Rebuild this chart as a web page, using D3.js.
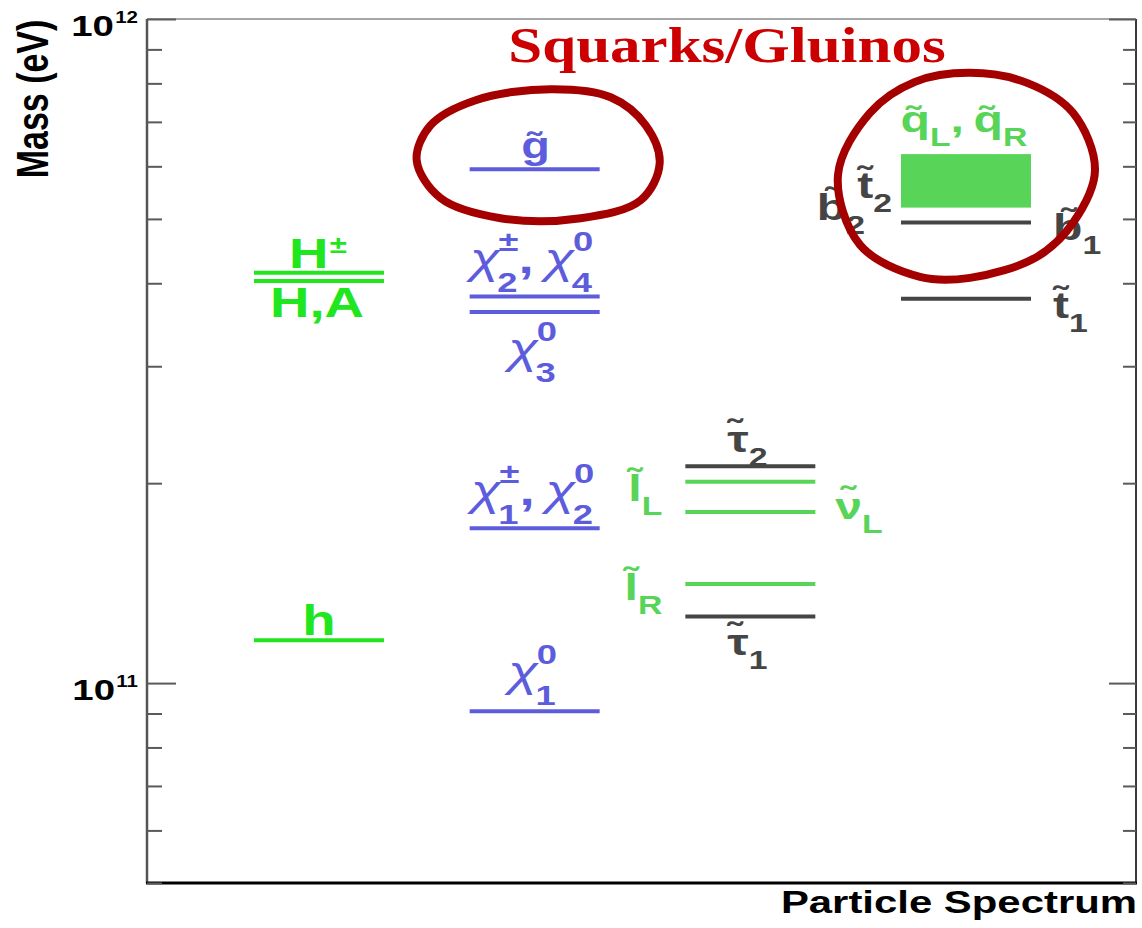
<!DOCTYPE html>
<html>
<head>
<meta charset="utf-8">
<script src="https://cdn.jsdelivr.net/npm/d3@7"></script>
<style>
  body { margin: 0; background: #fff; }
  svg { display: block; }
</style>
</head>
<body>
<script>
// ---- Mass spectrum (eV) ----
const columns = ["Higgs", "Gauginos", "Sleptons", "Squarks"];

const higgsNames = ["H^±", "H,A", "h"];
const higgsMasses = [4.15e11, 4.03e11, 1.16e11];

const gauginoNames = ["g\u0303", "χ_2^±, χ_4^0", "χ_3^0", "χ_1^±, χ_2^0", "χ_1^0"];
const gauginoMasses = [5.94e11, 3.82e11, 3.62e11, 1.71e11, 9.07e10];

const sleptonNames = ["τ\u0303_2", "l\u0303_L", "ν\u0303_L", "l\u0303_R", "τ\u0303_1"];
const sleptonMasses = [2.12e11, 2.01e11, 1.81e11, 1.41e11, 1.26e11];
const sleptonKinds = ["stau", "sel", "snu", "sel", "stau"];

const squarkNames = ["t\u0303_2", "b\u0303_2", "b\u0303_1", "t\u0303_1"];
const squarkMasses = [5.75e11, 5.25e11, 4.94e11, 3.79e11];

const squarkBandName = "q\u0303_L, q\u0303_R";
const squarkBand = [5.20e11, 6.26e11];

const yDomain = [5e10, 1e12];
const yMajorTicks = [1e11, 1e12];
const yMajorExponents = ["11", "12"];

const yTitle = "Mass (eV)";
const xTitle = "Particle Spectrum";
const bannerText = "Squarks/Gluinos";

// ---- Layout ----
const W = 1142, H = 928;
const P = { left: 147, right: 1136, top: 19, bottom: 883 };
const SX = 1.3;          // horizontal stretch of all lettering
const HALF = 65;         // half width of a level line
const LW = 4;            // level line thickness

const C = {
  higgs: "#20e620",
  gaugino: "#5c5cdd",
  green: "#58d458",
  gray: "#454545",
  ring: "#a50000",
  banner: "#cc0000",
  axis: "#555"
};

const svg = d3.select("body").append("svg").attr("width", W).attr("height", H);

const y = d3.scaleLog().domain(yDomain).range([P.bottom, P.top]);
const x = d3.scalePoint().domain(columns).range([P.left + 172, P.right - 170]);

// ---- Label helper: base + optional subscript / superscript (stacked) ----
function parseLabel(str) {
  const segs = [];
  str.split(", ").forEach((piece, i) => {
    if (i > 0) segs.push({ t: ",\u2009" });
    const m = piece.match(/^([^_^]+)(?:_([^_^]+))?(?:\^([^_^]+))?$/);
    segs.push({ t: m[1], sub: m[2], sup: m[3], it: m[1].startsWith("χ") });
  });
  return segs;
}

function drawLabel(parent, str, o) {
  const g = parent.append("g");
  const inner = g.append("g");
  const fam = o.family || "'Liberation Sans', Arial, sans-serif";
  let cx = 0;
  parseLabel(str).forEach(s => {
    const b = inner.append("text")
      .attr("x", cx).attr("y", 0)
      .attr("font-family", fam)
      .attr("font-size", o.size)
      .attr("font-weight", s.it ? (o.greekWeight || "normal") : (o.weight || "bold"))
      .attr("font-style", s.it ? "italic" : "normal")
      .attr("fill", o.color)
      .text(s.t);
    cx += b.node().getComputedTextLength() + (s.it ? -2 : 0);
    let w = 0;
    if (s.sub) {
      const t = inner.append("text")
        .attr("x", cx).attr("y", o.subDy)
        .attr("font-family", fam).attr("font-size", o.subSize)
        .attr("font-weight", "bold").attr("fill", o.color).text(s.sub);
      w = Math.max(w, t.node().getComputedTextLength());
    }
    if (s.sup) {
      const t = inner.append("text")
        .attr("x", cx + 1).attr("y", o.supDy)
        .attr("font-family", fam).attr("font-size", o.supSize || o.subSize)
        .attr("font-weight", "bold").attr("fill", o.color).text(s.sup);
      w = Math.max(w, t.node().getComputedTextLength() + 1);
    }
    cx += w;
  });
  const shift = o.anchor === "middle" ? -cx / 2 : o.anchor === "end" ? -cx : 0;
  inner.attr("transform", `translate(${shift},0)`);
  g.attr("transform", `translate(${o.x},${o.y}) scale(${o.sx || SX},1)`);
  return g;
}

// ---- Frame and axes ----
const frame = svg.append("g");
frame.append("line").attr("x1", P.left).attr("x2", P.right).attr("y1", P.top).attr("y2", P.top)
  .attr("stroke", "#8a8a8a").attr("stroke-width", 1.5);
frame.append("line").attr("x1", P.right).attr("x2", P.right).attr("y1", P.top).attr("y2", P.bottom)
  .attr("stroke", "#3a3a3a").attr("stroke-width", 2);

const isMajor = v => Math.abs(Math.log10(v) - Math.round(Math.log10(v))) < 1e-9;
const minorTicks = y.ticks().filter(v => !isMajor(v));

function tickAxis(axis, xpos) {
  const g = svg.append("g").attr("transform", `translate(${xpos},0)`).call(axis);
  g.select(".domain").remove();
  g.selectAll(".tick line").attr("stroke", "#5a5a5a").attr("stroke-width", 2);
  g.selectAll(".tick text").remove();
}
tickAxis(d3.axisRight(y).tickValues(minorTicks).tickSize(15).tickFormat(""), P.left);
tickAxis(d3.axisRight(y).tickValues(yMajorTicks).tickSize(29).tickFormat(""), P.left);
tickAxis(d3.axisLeft(y).tickValues(minorTicks).tickSize(13).tickFormat(""), P.right);
tickAxis(d3.axisLeft(y).tickValues(yMajorTicks).tickSize(27).tickFormat(""), P.right);

frame.append("line").attr("x1", P.left).attr("x2", P.left).attr("y1", P.top).attr("y2", P.bottom)
  .attr("stroke", C.axis).attr("stroke-width", 2.5);
frame.append("line").attr("x1", P.left - 1).attr("x2", P.right + 1).attr("y1", P.bottom).attr("y2", P.bottom)
  .attr("stroke", "#000").attr("stroke-width", 3);

// tick labels 10^n
yMajorTicks.forEach((v, i) => {
  drawLabel(svg, `10^${yMajorExponents[i]}`, {
    x: P.left - 9, y: y(v) + 17, anchor: "end",
    size: 30, subSize: 16, supDy: -13, color: "#000", sx: 1.28
  });
});

// axis titles
svg.append("text")
  .attr("transform", `translate(48,${P.top + 80}) scale(${SX},1) rotate(-90)`)
  .attr("text-anchor", "middle")
  .attr("font-family", "'Liberation Sans', Arial, sans-serif")
  .attr("font-weight", "bold").attr("font-size", 34).attr("fill", "#000")
  .text(yTitle);

svg.append("text")
  .attr("transform", `translate(${P.right + 1},${P.bottom + 30}) scale(1.33,1)`)
  .attr("text-anchor", "end")
  .attr("font-family", "'Liberation Sans', Arial, sans-serif")
  .attr("font-weight", "bold").attr("font-size", 31.5).attr("fill", "#000")
  .text(xTitle);

// ---- Level lines ----
const marks = svg.append("g");
function levels(names, masses, col, colorOf) {
  marks.selectAll(null).data(masses).enter().append("line")
    .attr("x1", x(col) - HALF).attr("x2", x(col) + HALF)
    .attr("y1", d => y(d)).attr("y2", d => y(d))
    .attr("stroke", (d, i) => colorOf(i))
    .attr("stroke-width", LW);
}

levels(higgsNames, higgsMasses, "Higgs", () => C.higgs);
levels(gauginoNames, gauginoMasses, "Gauginos", () => C.gaugino);
levels(sleptonNames, sleptonMasses, "Sleptons", i => sleptonKinds[i] === "stau" ? C.gray : C.green);
levels(squarkNames, squarkMasses, "Squarks", () => C.gray);

// light-squark mass band
marks.append("rect")
  .attr("x", x("Squarks") - HALF)
  .attr("width", 2 * HALF)
  .attr("y", y(squarkBand[1]))
  .attr("height", y(squarkBand[0]) - y(squarkBand[1]))
  .attr("fill", C.green);

// ---- Level labels ----
const labels = svg.append("g");
const higgsStyle = { size: 42, subSize: 24, supDy: -15, color: C.higgs };
const higgsPlace = [
  { anchor: "middle", dx: -1, dy: -5 },
  { anchor: "middle", dx: -2, dy: 36 },
  { anchor: "middle", dx: 0, dy: -5 }
];
higgsNames.forEach((n, i) => {
  const p = higgsPlace[i];
  drawLabel(labels, n, Object.assign({}, higgsStyle, {
    x: x("Higgs") + p.dx, y: y(higgsMasses[i]) + p.dy, anchor: p.anchor }));
});

const chiStyle = { size: 42, subSize: 28, subDy: 19, supDy: -22, color: C.gaugino };
const gauginoPlace = [
  { anchor: "middle", dx: 1, dy: -11, size: 36 },
  { anchor: "middle", dx: -3, dy: -24 },
  { anchor: "middle", dx: -2, dy: 51 },
  { anchor: "middle", dx: -2, dy: -23 },
  { anchor: "middle", dx: -2, dy: -25 }
];
gauginoNames.forEach((n, i) => {
  const p = gauginoPlace[i];
  drawLabel(labels, n, Object.assign({}, chiStyle, {
    x: x("Gauginos") + p.dx, y: y(gauginoMasses[i]) + p.dy, anchor: p.anchor },
    p.size ? { size: p.size } : {}));
});

const sfStyle = { size: 37, subSize: 26, subDy: 14 };
const sleptonPlace = [
  { anchor: "middle", ref: 0, dx: -3, dy: -14 },
  { anchor: "end", ref: -1, dx: -23, dy: 19 },
  { anchor: "start", ref: 1, dx: 20, dy: 7 },
  { anchor: "end", ref: -1, dx: -23, dy: 16 },
  { anchor: "middle", ref: 0, dx: -3, dy: 39 }
];
sleptonNames.forEach((n, i) => {
  const p = sleptonPlace[i];
  drawLabel(labels, n, Object.assign({}, sfStyle, {
    x: x("Sleptons") + p.ref * HALF + p.dx, y: y(sleptonMasses[i]) + p.dy,
    anchor: p.anchor, color: sleptonKinds[i] === "stau" ? C.gray : C.green }));
});

const squarkPlace = [
  { anchor: "end", ref: -1, dx: -9, dy: 19 },
  { anchor: "end", ref: -1, dx: -36, dy: 15 },
  { anchor: "start", ref: 1, dx: 22, dy: 18 },
  { anchor: "start", ref: 1, dx: 22, dy: 19 }
];
squarkNames.forEach((n, i) => {
  const p = squarkPlace[i];
  drawLabel(labels, n, Object.assign({}, sfStyle, {
    x: x("Squarks") + p.ref * HALF + p.dx, y: y(squarkMasses[i]) + p.dy,
    anchor: p.anchor, color: C.gray }));
});
drawLabel(labels, squarkBandName, Object.assign({}, sfStyle, {
  x: x("Squarks") - 2, y: y(squarkBand[1]) - 22, anchor: "middle", color: C.green }));

// ---- Hand-drawn rings around gluino and squarks ----
const ringLine = d3.line().curve(d3.curveCatmullRomClosed.alpha(0.5));
const gluinoRing = [[13,-66],[73,-58],[108,-30],[122,8],[103,45],[43,63],[-37,63],[-97,43],[-121,5],[-107,-30],[-62,-55]];
const squarkRing = [[3,-102],[60,-92],[106,-62],[128,-5],[106,48],[70,82],[3,103],[-47,102],[-107,70],[-129,0],[-97,-62],[-52,-93]];

function ring(pts, cx, cy) {
  svg.append("path")
    .attr("d", ringLine(pts.map(([dx, dy]) => [cx + dx, cy + dy])))
    .attr("fill", "none").attr("stroke", C.ring).attr("stroke-width", 8)
    .attr("stroke-linejoin", "round");
}
ring(gluinoRing, x("Gauginos") + 3, y(gauginoMasses[0]) - 14);
ring(squarkRing, x("Squarks") + 1, (y(squarkBand[0]) + y(squarkBand[1])) / 2 - 6);

svg.append("text")
  .attr("transform", `translate(${P.left + 580},${P.top + 43}) scale(1.22,1)`)
  .attr("text-anchor", "middle")
  .attr("font-family", "'Liberation Serif', 'Times New Roman', serif")
  .attr("font-weight", "bold").attr("font-size", 50).attr("fill", C.banner)
  .text(bannerText);
</script>
</body>
</html>
